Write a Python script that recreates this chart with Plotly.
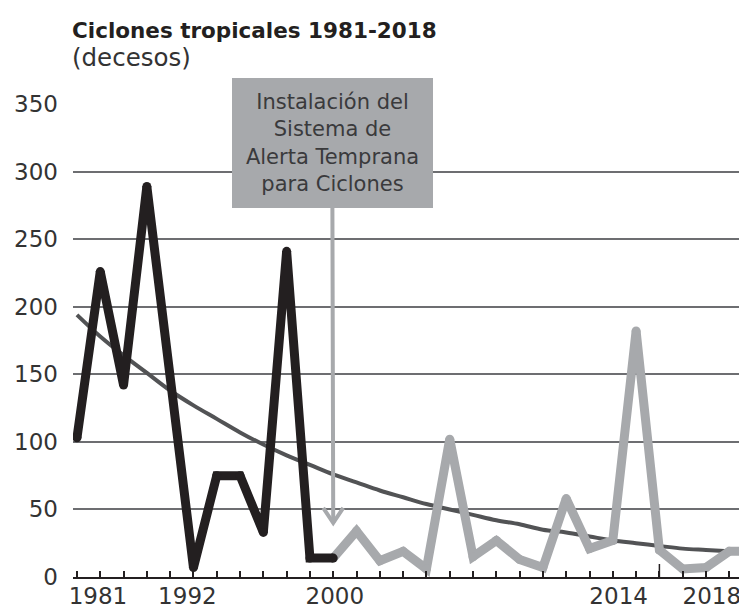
import plotly.graph_objects as go

# ---- data ----
black_idx = [0, 1, 2, 3, 5, 6, 7, 8, 9, 10, 11]
black_val = [103, 226, 142, 289, 7, 75, 75, 33, 241, 14, 14]

gray_idx = [11, 12, 13, 14, 15, 16, 17, 18, 19, 20, 21, 22, 23, 24, 25, 26, 27, 28, 29]
gray_val = [14, 34, 12, 19, 6, 102, 15, 27, 13, 7, 58, 21, 27, 182, 20, 6, 7, 19, 19]

trend_idx = list(range(0, 29))
trend_val = [194, 178, 164, 151, 138, 127, 117, 107, 98, 90, 83, 76, 70, 64, 59,
             54, 50, 46, 42, 39, 35, 33, 30, 27, 25, 23, 21, 20, 19]

year_labels = ["1981", "1992", "2000", "2014", "2018"]
year_label_pos = [0.90, 4.74, 11.07, 23.25, 27.25]

y_ticks = [0, 50, 100, 150, 200, 250, 300, 350]

title = "Ciclones tropicales 1981-2018"
subtitle = "(decesos)"
note = "Instalación del<br>Sistema de<br>Alerta Temprana<br>para Ciclones"
arrow_x, arrow_y = 11, 40

FONT = "DejaVu Sans"
BLACK = "#231F20"
GRAY = "#A7A9AC"
TREND = "#525355"

fig = go.Figure()
fig.add_trace(go.Scatter(x=trend_idx, y=trend_val, mode="lines",
                         line=dict(color=TREND, width=4, shape="spline"),
                         hoverinfo="skip"))
fig.add_trace(go.Scatter(x=gray_idx, y=gray_val, mode="lines+markers",
                         line=dict(color=GRAY, width=9),
                         marker=dict(color=GRAY, size=9)))
fig.add_trace(go.Scatter(x=black_idx, y=black_val, mode="lines+markers",
                         line=dict(color=BLACK, width=9),
                         marker=dict(color=BLACK, size=9)))

# page body has an 8px margin, so the figure is 8px smaller and shifted
fig.update_layout(
    width=739, height=601,
    margin=dict(l=65, r=0, t=96, b=32, autoexpand=False),
    paper_bgcolor="white", plot_bgcolor="white",
    showlegend=False,
    font=dict(family=FONT, color="#333333"),
)
fig.update_xaxes(
    range=[-0.17, 28.76],
    showgrid=False, zeroline=False,
    showline=True, linecolor=BLACK, linewidth=2,
    tickmode="array", tickvals=year_label_pos, ticktext=year_labels,
    ticks="", tickfont=dict(size=23, color="#333333", family=FONT),
    ticklabelstandoff=-3, ticklabeloverflow="allow",
    minor=dict(ticks="inside", tickmode="linear", tick0=0, dtick=1,
               ticklen=6, tickwidth=1.5, tickcolor=BLACK, showgrid=False),
)
fig.update_yaxes(
    range=[0, 350],
    tickmode="array", tickvals=y_ticks,
    showgrid=True, gridcolor="#6D6E71", gridwidth=1.8,
    zeroline=False, showline=False, ticks="",
    tickfont=dict(size=23, color="#333333", family=FONT),
    ticklabelstandoff=14,
)

# taller tick mark
fig.add_shape(type="line", xref="x", yref="y", x0=25, x1=25,
              ysizemode="pixel", yanchor=0, y0=0, y1=13,
              line=dict(color=BLACK, width=1.5))

# title + subtitle
fig.add_annotation(text="<b>" + title + "</b>", xref="paper", yref="paper",
                   x=-0.005, y=1.155, xanchor="left", yanchor="middle", showarrow=False,
                   font=dict(size=21.5, color=BLACK, family=FONT))
fig.add_annotation(text=subtitle, xref="paper", yref="paper",
                   x=-0.005, y=1.099, xanchor="left", yanchor="middle", showarrow=False,
                   font=dict(size=24.5, color="#333333", family=FONT))

# callout box with arrow line
fig.add_annotation(text=note, x=arrow_x, y=arrow_y, xref="x", yref="y",
                   ax=-1, ay=-380, axref="pixel", ayref="pixel",
                   showarrow=True, arrowhead=0, arrowwidth=4,
                   arrowcolor=GRAY, standoff=0,
                   bgcolor=GRAY, width=201, height=130, borderpad=0, borderwidth=0,
                   align="center", valign="middle",
                   font=dict(size=21, color="#3A3A3C", family=FONT))
# open chevron arrow head
fig.add_shape(type="path", xref="x", yref="y",
              xsizemode="pixel", xanchor=arrow_x,
              ysizemode="pixel", yanchor=arrow_y,
              path="M -10,15 L 0,0 L 10,15",
              line=dict(color=GRAY, width=4))

fig.write_html("out.html")
